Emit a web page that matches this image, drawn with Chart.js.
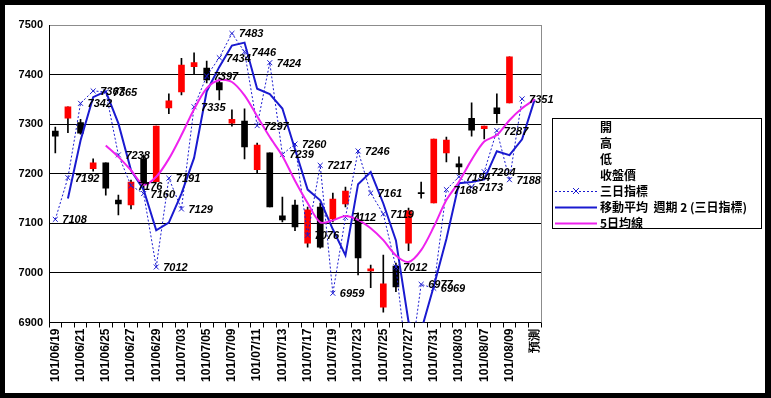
<!DOCTYPE html>
<html>
<head>
<meta charset="utf-8">
<script src="https://cdn.jsdelivr.net/npm/chart.js@4.4.0/dist/chart.umd.min.js"></script>
<style>
  html, body { margin: 0; padding: 0; background: #000; }
  #wrap { position: absolute; left: 5px; top: 5px; width: 760px; height: 388px; background: #fff; }
</style>
</head>
<body>
<div id="wrap"><canvas id="c" width="760" height="388"></canvas></div>
<script>
// trading days (ROC calendar), last one is the forecast slot
const dates = [
  "101/06/19","101/06/20","101/06/21","101/06/22","101/06/25","101/06/26","101/06/27","101/06/28","101/06/29",
  "101/07/02","101/07/03","101/07/04","101/07/05","101/07/06","101/07/09","101/07/10","101/07/11","101/07/12","101/07/13",
  "101/07/16","101/07/17","101/07/18","101/07/19","101/07/20","101/07/23","101/07/24","101/07/25","101/07/26","101/07/27",
  "101/07/30","101/07/31","101/08/01","101/08/03","101/08/06","101/08/07","101/08/08","101/08/09","101/08/10","預測"
];

const openP  = [7286,7312,7303,7210,7222,7147,7137,7230,7184,7333,7365,7416,7413,7384,7302,7306,7208,7242,7115,
                7137,7060,7133,7109,7139,7107,7004,6931,7014,7060,7162,7141,7242,7220,7312,7291,7333,7343,null,null];
const highP  = [7294,7335,7310,7230,7222,7157,7187,7238,7296,7361,7433,7444,7427,7394,7329,7331,7262,7242,7153,
                7147,7133,7141,7161,7173,7121,7016,7036,7020,7131,7183,7270,7274,7234,7343,7296,7361,7436,null,null];
const lowP   = [7242,7283,7280,7205,7157,7117,7129,7165,7184,7321,7359,7400,7383,7349,7296,7230,7202,7133,7103,
                7085,7052,7050,7103,7133,6996,6970,6921,6962,7045,7151,7141,7224,7198,7276,7270,7302,7343,null,null];
const closeP = [7276,7335,7282,7222,7171,7139,7183,7179,7296,7347,7419,7424,7389,7369,7310,7254,7258,7133,7107,
                7093,7127,7052,7149,7165,7030,7008,6978,6972,7125,7160,7270,7268,7214,7288,7296,7321,7436,null,null];

// 三日指標
const threeDay = [7108,7192,7342,7367,7365,7238,7176,7160,7012,7191,7129,7335,7397,7434,7483,7446,7297,7424,7239,
                  7260,7076,7217,6959,7112,7246,7161,7119,7012,6790,6977,6969,7168,7194,7173,7204,7287,7188,7351,null];
// 移動平均 週期 2 (三日指標)
const ma2 = [null,7150,7267,7354.5,7366,7301.5,7207,7168,7086,7101.5,7160,7232,7366,7415.5,7458.5,7464.5,7371.5,7360.5,7331.5,
             7249.5,7168,7146.5,7088,7035.5,7179,7203.5,7140,7065.5,6901,6883.5,6973,7068.5,7181,7183.5,7188.5,7245.5,7237.5,7269.5,7350];
// 5日均線
const ma5 = [null,null,null,null,7257,7234,7207,7178,7194,7230,7278,7330,7372,7389,7385,7358,7316,7274,7236,
             7186,7141,7102,7106,7115,7107,7090,7066,7035,7022,7046,7093,7147,7184,7228,7265,7278,7308,7332,7350];

const yTicks = [6900,7000,7100,7200,7300,7400,7500];

const legendItems = ["開","高","低","收盤價","三日指標","移動平均  週期 2 (三日指標)","5日均線"];

const BLUE = "#1a1ad0";
const MAGENTA = "#ee22ee";

const wicks = lowP.map((l, i) => l == null ? null : [l, highP[i]]);
const bodies = openP.map((o, i) => o == null ? null : [o, closeP[i]]);
const bodyColors = openP.map((o, i) => (closeP[i] >= o ? "#ff0000" : "#000000"));

const extras = {
  id: "extras",
  afterDatasetsDraw(chart) {
    const ctx = chart.ctx, area = chart.chartArea;
    // value labels for 三日指標
    const meta = chart.getDatasetMeta(2);
    ctx.save();
    ctx.font = 'italic bold 11px "Liberation Sans"';
    ctx.fillStyle = "#000";
    ctx.textBaseline = "middle";
    meta.data.forEach((pt, i) => {
      const v = threeDay[i];
      if (v == null || pt.y > area.bottom || pt.y < area.top) return;
      ctx.fillText(String(v), pt.x + 7, pt.y + 1);
    });
    // right frame edge
    ctx.strokeStyle = "#8c8c8c";
    ctx.lineWidth = 1;
    ctx.beginPath();
    ctx.moveTo(Math.round(area.right) + 0.5, area.top);
    ctx.lineTo(Math.round(area.right) + 0.5, area.bottom);
    ctx.stroke();
    ctx.restore();
  },
  afterDraw(chart) {
    const ctx = chart.ctx;
    const bx = 547, by = 113, bw = 209, bh = 110;
    ctx.save();
    ctx.fillStyle = "#fff";
    ctx.fillRect(bx, by, bw, bh);
    ctx.strokeStyle = "#000";
    ctx.lineWidth = 1;
    ctx.strokeRect(bx + 0.5, by + 0.5, bw, bh);
    ctx.font = 'bold 12px "Noto Sans CJK TC"';
    ctx.fillStyle = "#000";
    ctx.textBaseline = "middle";
    legendItems.forEach((t, i) => {
      const y = by + 9 + i * 16;
      ctx.fillText(t, bx + 48, y);
      if (i === 4) {
        ctx.strokeStyle = BLUE;
        ctx.setLineDash([2, 2]);
        ctx.beginPath(); ctx.moveTo(bx + 3, y + 0.5); ctx.lineTo(bx + 45, y + 0.5); ctx.stroke();
        ctx.setLineDash([]);
        const cx = bx + 24;
        ctx.beginPath();
        ctx.moveTo(cx - 3, y - 3); ctx.lineTo(cx + 3, y + 3);
        ctx.moveTo(cx + 3, y - 3); ctx.lineTo(cx - 3, y + 3);
        ctx.stroke();
      } else if (i === 5 || i === 6) {
        ctx.strokeStyle = i === 5 ? BLUE : MAGENTA;
        ctx.lineWidth = 2;
        ctx.beginPath(); ctx.moveTo(bx + 3, y + 0.5); ctx.lineTo(bx + 45, y + 0.5); ctx.stroke();
        ctx.lineWidth = 1;
      }
    });
    ctx.restore();
  }
};

new Chart(document.getElementById("c"), {
  type: "bar",
  data: {
    labels: dates,
    datasets: [
      { type: "bar", label: "wick", data: wicks, backgroundColor: "#000", barThickness: 1, grouped: false, order: 5 },
      { type: "bar", label: "body", data: bodies, backgroundColor: bodyColors, barThickness: 6, grouped: false, order: 4 },
      { type: "line", label: "三日指標", data: threeDay, borderColor: BLUE, borderWidth: 1, borderDash: [2, 2],
        pointStyle: "crossRot", pointRadius: 3.5, pointBorderColor: BLUE, pointBorderWidth: 1, tension: 0, order: 3 },
      { type: "line", label: "移動平均 週期 2 (三日指標)", data: ma2, borderColor: BLUE, borderWidth: 2,
        pointRadius: 0, tension: 0, order: 2 },
      { type: "line", label: "5日均線", data: ma5, borderColor: MAGENTA, borderWidth: 2,
        pointRadius: 0, tension: 0.3, order: 1 }
    ]
  },
  options: {
    responsive: false,
    animation: false,
    devicePixelRatio: 1,
    layout: { padding: { top: 20, right: 224, bottom: 0, left: 0 } },
    plugins: { legend: { display: false }, tooltip: { enabled: false } },
    scales: {
      x: {
        offset: true,
        grid: { offset: true, drawOnChartArea: false, drawTicks: true, tickLength: 5, color: "#000" },
        border: { color: "#000", width: 1 },
        ticks: {
          autoSkip: false, maxRotation: 90, minRotation: 90, padding: 1,
          color: "#000", font: { family: "Liberation Sans", size: 12, weight: "bold" },
          callback: (v, i) => (i % 2 === 0 ? dates[i] : "")
        },
        afterFit: (s) => { s.height = 70.5; }
      },
      y: {
        min: 6900, max: 7500,
        afterBuildTicks: (s) => { s.ticks = yTicks.map(v => ({ value: v })); },
        grid: { drawTicks: false, color: (c) => (c.tick && c.tick.value === 7500 ? "#8c8c8c" : "#000") },
        border: { color: "#000", width: 1 },
        ticks: {
          padding: 6, color: "#000", font: { family: "Liberation Sans", size: 11, weight: "bold" },
          callback: (v) => String(v)
        },
        afterFit: (s) => { s.width = 44; }
      }
    }
  },
  plugins: [extras]
});
</script>
</body>
</html>
